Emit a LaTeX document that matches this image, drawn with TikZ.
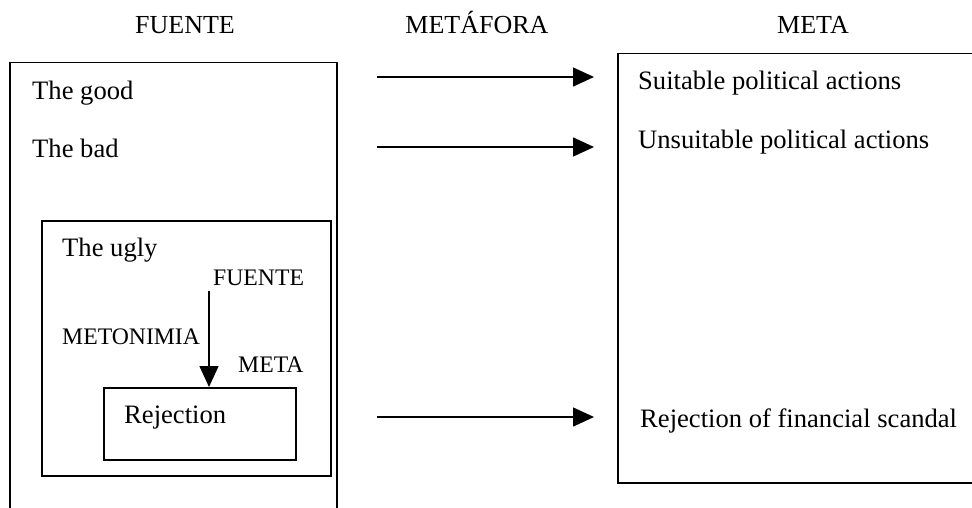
\documentclass[tikz,border=0pt]{standalone}
\usepackage{fontspec}
\setmainfont{Liberation Serif}
\usetikzlibrary{arrows.meta}
\begin{document}
\begin{tikzpicture}[x=1pt,y=-1pt,
  frame/.style={draw=black,line width=1.8pt},
  boxnode/.style={frame,rectangle,inner sep=0pt,anchor=north west},
  big/.style={font=\fontsize{26.6}{30}\selectfont,inner sep=0pt,anchor=base west},
  heading/.style={font=\fontsize{26}{30}\selectfont,inner sep=0pt,anchor=base},
  small/.style={font=\fontsize{23.7}{28}\selectfont,inner sep=0pt,anchor=base west},
  maparrow/.style={line width=1.5pt,-{Triangle[length=21pt,width=19pt]}}]
  \useasboundingbox (0,0) rectangle (972,507);
  \begin{scope}
  \clip (0,0) rectangle (972,507);
  % column headings
  \node[heading] (hsrc) at (185,33) {FUENTE};
  \node[heading] (hmap) at (477,33) {METÁFORA};
  \node[heading] (htgt) at (813,33) {META};
  % source domain frame (open at the bottom)
  \draw[frame] (10,510) -- (10,62.5) -- (337,62.5) -- (337,510);
  % target domain frame
  \node[boxnode,minimum width=380pt,minimum height=429.5pt] (tgt) at (617,52.5) {};
  % source entries
  \node[big] (good) at (32,99) {The good};
  \node[big] (bad) at (32,157) {The bad};
  \node[boxnode,minimum width=289pt,minimum height=255pt] (ugly) at (41,220) {};
  \node[big] (uglytxt) at (62,256) {The ugly};
  \node[small] (msrc) at (213,285) {FUENTE};
  \node[small] (mlab) at (62,344) {METONIMIA};
  \node[small] (mtgt) at (238,372) {META};
  \node[boxnode,minimum width=192pt,minimum height=72pt] (rej) at (103,387) {};
  \node[big] (rejtxt) at (124,423) {Rejection};
  % target entries
  \node[big] (suit) at (638,89) {Suitable political actions};
  \node[big] (unsuit) at (638,148) {Unsuitable political actions};
  \node[big] (scandal) at (640,427) {Rejection of financial scandal};
  % metaphor mappings
  \coordinate (a1s) at (377,77);
  \coordinate (a1e) at (594,77);
  \coordinate (a2s) at (377,147);
  \coordinate (a2e) at (594,147);
  \coordinate (a3s) at (377,417);
  \coordinate (a3e) at (594,417);
  \draw[maparrow] (a1s) -- (a1e);
  \draw[maparrow] (a2s) -- (a2e);
  \draw[maparrow] (a3s) -- (a3e);
  % metonymy mapping
  \coordinate (mstart) at (209,291);
  \draw[maparrow] (mstart) -- (mstart |- rej.north);
  \end{scope}
\end{tikzpicture}
\end{document}
